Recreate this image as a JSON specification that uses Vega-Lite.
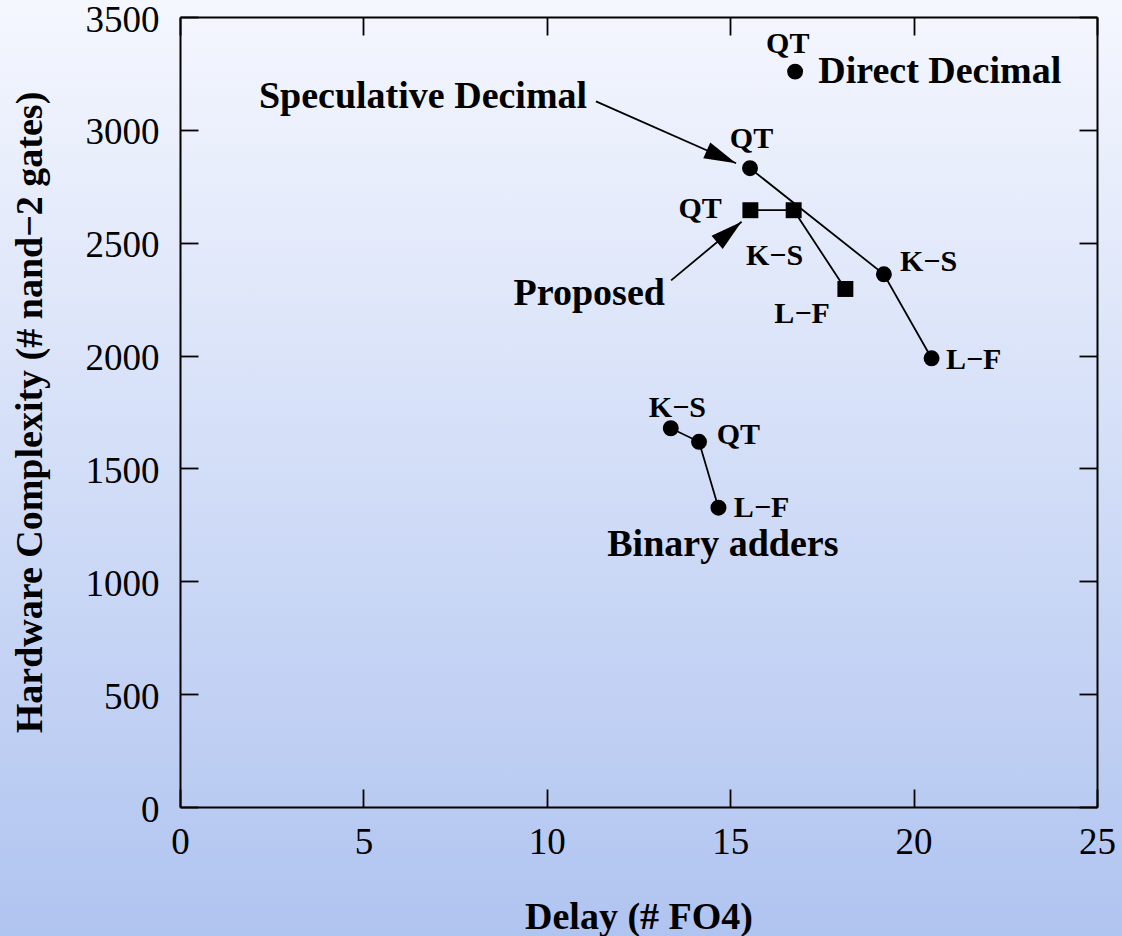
{
  "$schema": "https://vega.github.io/schema/vega-lite/v6.json",
  "width": 1122,
  "height": 936,
  "padding": 0,
  "autosize": {"type": "none"},
  "background": "#b0c4f0",
  "config": {
    "view": {
      "stroke": null,
      "fill": {
        "gradient": "linear",
        "x1": 0, "y1": 0, "x2": 0, "y2": 1,
        "stops": [
          {"offset": 0, "color": "#f5f7fe"},
          {"offset": 1, "color": "#b0c4f0"}
        ]
      }
    },
    "font": "Liberation Serif",
    "axis": {
      "grid": false,
      "domainColor": "black",
      "domainWidth": 2,
      "tickColor": "black",
      "tickWidth": 1.8,
      "tickSize": -18,
      "labelColor": "black",
      "labelFont": "Liberation Serif",
      "labelFontSize": 37,
      "labelFlush": false,
      "labelOverlap": false,
      "titleColor": "black",
      "titleFont": "Liberation Serif",
      "titleFontSize": 38,
      "titleFontWeight": "bold"
    }
  },
  "datasets": {
    "points": [
      {"design": "Direct Decimal", "adder": "QT", "seq": 1, "delay": 16.77, "gates": 3258},
      {"design": "Speculative Decimal", "adder": "QT", "seq": 1, "delay": 15.54, "gates": 2830},
      {"design": "Speculative Decimal", "adder": "K−S", "seq": 2, "delay": 19.19, "gates": 2360},
      {"design": "Speculative Decimal", "adder": "L−F", "seq": 3, "delay": 20.49, "gates": 1988},
      {"design": "Proposed", "adder": "QT", "seq": 1, "delay": 15.55, "gates": 2644},
      {"design": "Proposed", "adder": "K−S", "seq": 2, "delay": 16.73, "gates": 2644},
      {"design": "Proposed", "adder": "L−F", "seq": 3, "delay": 18.14, "gates": 2295},
      {"design": "Binary adders", "adder": "K−S", "seq": 1, "delay": 13.38, "gates": 1678},
      {"design": "Binary adders", "adder": "QT", "seq": 2, "delay": 14.15, "gates": 1618},
      {"design": "Binary adders", "adder": "L−F", "seq": 3, "delay": 14.68, "gates": 1326}
    ],
    "arrows": [
      {"target": "Speculative Decimal", "delay": 11.34, "gates": 3126, "tipDelay": 15.16, "tipGates": 2852},
      {"target": "Proposed", "delay": 13.39, "gates": 2333, "tipDelay": 15.31, "tipGates": 2593}
    ],
    "labels": [
      {"text": "QT", "kind": "tag", "anchor": "center", "delay": 16.57, "gates": 3339},
      {"text": "QT", "kind": "tag", "anchor": "center", "delay": 15.58, "gates": 2918},
      {"text": "K−S", "kind": "tag", "anchor": "center", "delay": 16.21, "gates": 2401},
      {"text": "L−F", "kind": "tag", "anchor": "center", "delay": 16.96, "gates": 2146},
      {"text": "K−S", "kind": "tag", "anchor": "center", "delay": 13.56, "gates": 1727},
      {"text": "K−S", "kind": "tag", "anchor": "left", "delay": 19.63, "gates": 2375},
      {"text": "L−F", "kind": "tag", "anchor": "left", "delay": 20.88, "gates": 1940},
      {"text": "QT", "kind": "tag", "anchor": "left", "delay": 14.63, "gates": 1608},
      {"text": "L−F", "kind": "tag", "anchor": "left", "delay": 15.10, "gates": 1285},
      {"text": "QT", "kind": "tag", "anchor": "right", "delay": 14.77, "gates": 2608},
      {"text": "Direct Decimal", "kind": "name", "anchor": "left", "delay": 17.40, "gates": 3206},
      {"text": "Speculative Decimal", "kind": "name", "anchor": "right", "delay": 11.10, "gates": 3096},
      {"text": "Proposed", "kind": "name", "anchor": "right", "delay": 13.22, "gates": 2224},
      {"text": "Binary adders", "kind": "name", "anchor": "center", "delay": 14.80, "gates": 1112}
    ]
  },
  "layer": [
    {
      "data": {"name": "points"},
      "transform": [{"filter": "datum.design !== 'Direct Decimal'"}],
      "mark": {"type": "line", "color": "black", "strokeWidth": 1.8},
      "encoding": {
        "x": {
          "field": "delay", "type": "quantitative",
          "scale": {"domain": [0, 25], "range": [180, 1097], "nice": false, "zero": false},
          "axis": {
            "orient": "bottom", "offset": -129,
            "values": [0, 5, 10, 15, 20, 25],
            "labelPadding": 64, "labelBaseline": "alphabetic",
            "title": "Delay (# FO4)", "titleY": 121, "titleBaseline": "alphabetic"
          }
        },
        "y": {
          "field": "gates", "type": "quantitative",
          "scale": {"domain": [0, 3500], "range": [807, 17], "nice": false, "zero": false},
          "axis": {
            "orient": "left", "offset": -180,
            "values": [0, 500, 1000, 1500, 2000, 2500, 3000, 3500],
            "format": "d",
            "labelPadding": 39, "labelBaseline": "alphabetic", "labelOffset": 14, "labelAlign": "right",
            "title": "Hardware Complexity (# nand−2 gates)", "titleX": -138.5, "titleBaseline": "alphabetic", "titleAngle": -90
          }
        },
        "detail": {"field": "design"},
        "order": {"field": "seq", "type": "quantitative"}
      }
    },
    {
      "data": {"name": "points"},
      "mark": {"type": "point", "filled": true, "opacity": 1, "color": "black"},
      "encoding": {
        "x": {
          "field": "delay", "type": "quantitative",
          "axis": {"orient": "top", "offset": -17, "values": [0, 5, 10, 15, 20, 25], "labels": false, "title": null}
        },
        "y": {
          "field": "gates", "type": "quantitative",
          "axis": {"orient": "right", "offset": -25, "values": [0, 500, 1000, 1500, 2000, 2500, 3000, 3500], "labels": false, "title": null}
        },
        "shape": {
          "field": "design", "type": "nominal", "legend": null,
          "scale": {"domain": ["Direct Decimal", "Speculative Decimal", "Proposed", "Binary adders"], "range": ["circle", "circle", "square", "circle"]}
        },
        "size": {
          "field": "design", "type": "nominal", "legend": null,
          "scale": {"domain": ["Direct Decimal", "Speculative Decimal", "Proposed", "Binary adders"], "range": [254, 254, 420, 254]}
        }
      }
    },
    {
      "data": {"name": "arrows"},
      "mark": {"type": "rule", "color": "black", "strokeWidth": 1.8},
      "encoding": {
        "x": {"field": "delay", "type": "quantitative", "axis": null},
        "y": {"field": "gates", "type": "quantitative", "axis": null},
        "x2": {"field": "tipDelay"},
        "y2": {"field": "tipGates"}
      }
    },
    {
      "data": {"name": "arrows"},
      "transform": [{"filter": "datum.target === 'Speculative Decimal'"}],
      "mark": {"type": "point", "shape": "M0,0L-0.27,1L0.27,1Z", "size": 4096, "angle": 113.8, "filled": true, "opacity": 1, "color": "black", "strokeWidth": 0},
      "encoding": {
        "x": {"field": "tipDelay", "type": "quantitative", "axis": null},
        "y": {"field": "tipGates", "type": "quantitative", "axis": null}
      }
    },
    {
      "data": {"name": "arrows"},
      "transform": [{"filter": "datum.target === 'Proposed'"}],
      "mark": {"type": "point", "shape": "M0,0L-0.27,1L0.27,1Z", "size": 4096, "angle": 49.8, "filled": true, "opacity": 1, "color": "black", "strokeWidth": 0},
      "encoding": {
        "x": {"field": "tipDelay", "type": "quantitative", "axis": null},
        "y": {"field": "tipGates", "type": "quantitative", "axis": null}
      }
    },
    {
      "data": {"name": "labels"},
      "transform": [{"filter": "datum.kind === 'tag' && datum.anchor === 'center'"}],
      "mark": {"type": "text", "font": "Liberation Serif", "fontWeight": "bold", "fontSize": 30, "align": "center", "baseline": "alphabetic", "color": "black"},
      "encoding": {
        "x": {"field": "delay", "type": "quantitative", "axis": null},
        "y": {"field": "gates", "type": "quantitative", "axis": null},
        "text": {"field": "text"}
      }
    },
    {
      "data": {"name": "labels"},
      "transform": [{"filter": "datum.kind === 'tag' && datum.anchor === 'left'"}],
      "mark": {"type": "text", "font": "Liberation Serif", "fontWeight": "bold", "fontSize": 30, "align": "left", "baseline": "alphabetic", "color": "black"},
      "encoding": {
        "x": {"field": "delay", "type": "quantitative", "axis": null},
        "y": {"field": "gates", "type": "quantitative", "axis": null},
        "text": {"field": "text"}
      }
    },
    {
      "data": {"name": "labels"},
      "transform": [{"filter": "datum.kind === 'tag' && datum.anchor === 'right'"}],
      "mark": {"type": "text", "font": "Liberation Serif", "fontWeight": "bold", "fontSize": 30, "align": "right", "baseline": "alphabetic", "color": "black"},
      "encoding": {
        "x": {"field": "delay", "type": "quantitative", "axis": null},
        "y": {"field": "gates", "type": "quantitative", "axis": null},
        "text": {"field": "text"}
      }
    },
    {
      "data": {"name": "labels"},
      "transform": [{"filter": "datum.kind === 'name' && datum.anchor === 'left'"}],
      "mark": {"type": "text", "font": "Liberation Serif", "fontWeight": "bold", "fontSize": 38, "align": "left", "baseline": "alphabetic", "color": "black"},
      "encoding": {
        "x": {"field": "delay", "type": "quantitative", "axis": null},
        "y": {"field": "gates", "type": "quantitative", "axis": null},
        "text": {"field": "text"}
      }
    },
    {
      "data": {"name": "labels"},
      "transform": [{"filter": "datum.kind === 'name' && datum.anchor === 'right'"}],
      "mark": {"type": "text", "font": "Liberation Serif", "fontWeight": "bold", "fontSize": 38, "align": "right", "baseline": "alphabetic", "color": "black"},
      "encoding": {
        "x": {"field": "delay", "type": "quantitative", "axis": null},
        "y": {"field": "gates", "type": "quantitative", "axis": null},
        "text": {"field": "text"}
      }
    },
    {
      "data": {"name": "labels"},
      "transform": [{"filter": "datum.kind === 'name' && datum.anchor === 'center'"}],
      "mark": {"type": "text", "font": "Liberation Serif", "fontWeight": "bold", "fontSize": 38, "align": "center", "baseline": "alphabetic", "color": "black"},
      "encoding": {
        "x": {"field": "delay", "type": "quantitative", "axis": null},
        "y": {"field": "gates", "type": "quantitative", "axis": null},
        "text": {"field": "text"}
      }
    }
  ],
  "resolve": {"axis": {"x": "independent", "y": "independent"}}
}
